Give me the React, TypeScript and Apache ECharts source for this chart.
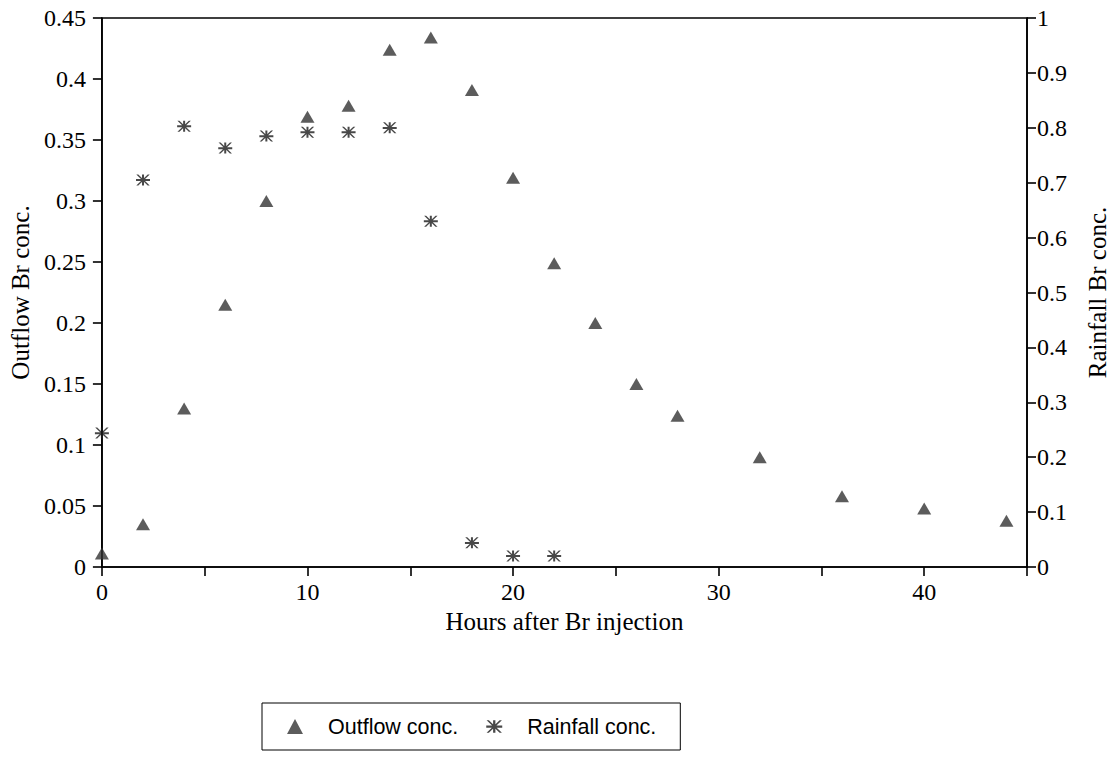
import React, { useEffect, useRef } from "react";
import * as echarts from "echarts";

const outflowHours = [0, 2, 4, 6, 8, 10, 12, 14, 16, 18, 20, 22, 24, 26, 28, 32, 36, 40, 44];
const outflowConc = [0.011, 0.035, 0.13, 0.215, 0.3, 0.369, 0.378, 0.424, 0.434, 0.391, 0.319, 0.249, 0.2, 0.15, 0.124, 0.09, 0.058, 0.048, 0.038];
const rainfallHours = [0, 2, 4, 6, 8, 10, 12, 14, 16, 18, 20, 22];
const rainfallConc = [0.244, 0.705, 0.803, 0.763, 0.785, 0.792, 0.792, 0.8, 0.63, 0.044, 0.02, 0.02];

const STAR =
  "path://M0,4.6L14,4.6L14,6.6L0,6.6Z" +
  "M6,0L8,0L8,11L6,11Z" +
  "M0.3,0L2.3,0L13.7,11L11.7,11Z" +
  "M11.7,0L13.7,0L2.3,11L0.3,11Z";

export default function App() {
  const ref = useRef<HTMLDivElement>(null);
  useEffect(() => {
    const chart = echarts.init(ref.current!, null, { renderer: "svg" });
    const serif = "Liberation Serif";
    const axisLine = { show: true, lineStyle: { color: "#000", width: 1.6 } };
    const tick = { show: true, inside: false, length: 9, lineStyle: { color: "#000", width: 1.6 } };
    chart.setOption({
      animation: false,
      backgroundColor: "#fff",
      grid: {
        left: 99,
        right: 80,
        top: 18,
        bottom: 199,
        show: true,
        borderColor: "#000",
        borderWidth: 1.6,
      },
      legend: {
        left: 262,
        top: 703,
        orient: "horizontal",
        padding: [11, 24, 11, 25],
        itemGap: 28,
        itemWidth: 16,
        itemHeight: 15,
        borderColor: "#000",
        borderWidth: 1,
        textStyle: {
          fontFamily: "Liberation Sans",
          fontSize: 21.5,
          color: "#000",
          padding: [0, 0, 0, 20],
          lineHeight: 25,
        },
        data: [
          { name: "Outflow conc.", icon: "triangle" },
          { name: "Rainfall conc.", icon: STAR },
        ],
      },
      xAxis: {
        type: "value",
        min: 0,
        max: 45,
        interval: 5,
        name: "Hours after Br injection",
        nameLocation: "middle",
        nameGap: 35,
        nameTextStyle: { fontFamily: serif, fontSize: 25, color: "#000" },
        axisLine,
        axisTick: tick,
        splitLine: { show: false },
        axisLabel: {
          margin: 13,
          fontFamily: serif,
          fontSize: 24,
          color: "#000",
          formatter: (v: number) => (v % 10 === 0 && v < 45 ? String(v) : ""),
        },
      },
      yAxis: [
        {
          type: "value",
          min: 0,
          max: 0.45,
          interval: 0.05,
          position: "left",
          name: "Outflow Br conc.",
          nameLocation: "middle",
          nameGap: 66,
          nameTextStyle: { fontFamily: serif, fontSize: 25, color: "#000" },
          axisLine,
          axisTick: tick,
          splitLine: { show: false },
          axisLabel: { margin: 16, fontFamily: serif, fontSize: 24, color: "#000" },
        },
        {
          type: "value",
          min: 0,
          max: 1,
          interval: 0.1,
          position: "right",
          name: "Rainfall Br conc.",
          nameLocation: "middle",
          nameGap: 58,
          nameTextStyle: { fontFamily: serif, fontSize: 25, color: "#000" },
          axisLine,
          axisTick: tick,
          splitLine: { show: false },
          axisLabel: { margin: 10, fontFamily: serif, fontSize: 24, color: "#000" },
        },
      ],
      series: [
        {
          name: "Outflow conc.",
          type: "scatter",
          yAxisIndex: 0,
          symbol: "triangle",
          symbolSize: [14, 12],
          itemStyle: { color: "#333" },
          data: outflowHours.map((h, i) => [h, outflowConc[i]]),
        },
        {
          name: "Rainfall conc.",
          type: "scatter",
          yAxisIndex: 1,
          symbol: STAR,
          symbolSize: [14, 11],
          itemStyle: { color: "#1a1a1a" },
          data: rainfallHours.map((h, i) => [h, rainfallConc[i]]),
        },
      ],
    });
    return () => chart.dispose();
  }, []);
  return (
    <div
      ref={ref}
      style={{ position: "fixed", left: 0, top: 0, width: 1118, height: 766, background: "#fff" }}
    />
  );
}
